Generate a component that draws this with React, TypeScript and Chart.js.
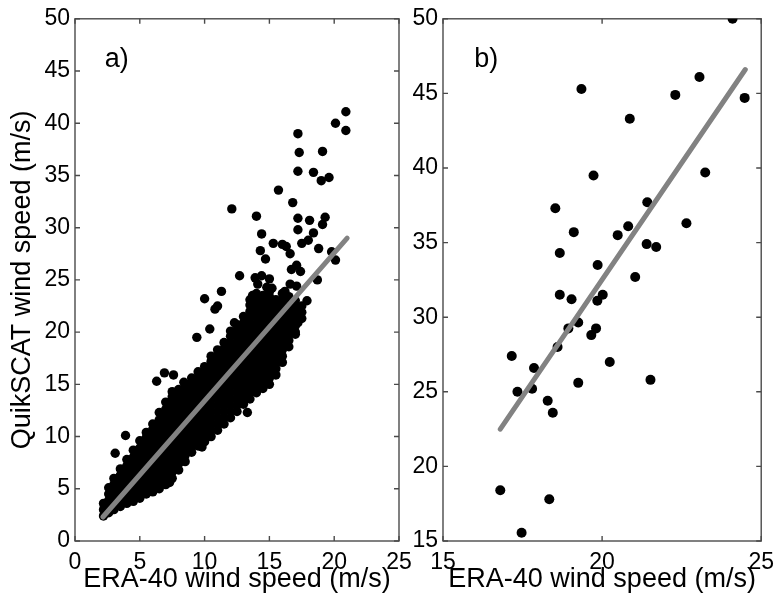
import React, { useEffect, useRef } from 'react';
import { Chart, registerables } from 'chart.js';

Chart.register(...registerables);

const FONT = '"Liberation Sans", Arial, Helvetica, sans-serif';

// ---------- Panel a) ----------
const xTitle = 'ERA-40 wind speed (m/s)';
const yTitle = 'QuikSCAT wind speed (m/s)';

// dense cloud read column by column: [ERA-40 speed, QuikSCAT speeds]
const blobA: [number, number[]][] = [
  [2.2, [2.4, 3.0, 3.6]],
  [2.6, [2.7, 3.3, 3.9, 4.5, 5.1]],
  [3.0, [3.0, 3.6, 4.2, 4.8, 5.4, 6.0]],
  [3.5, [3.3, 3.9, 4.5, 5.1, 5.7, 6.3, 6.9]],
  [4.0, [3.6, 4.2, 4.8, 5.4, 6.0, 6.6, 7.2, 7.8]],
  [4.5, [3.8, 4.4, 5.0, 5.6, 6.2, 6.8, 7.4, 8.0, 8.7]],
  [5.0, [4.1, 4.7, 5.3, 5.9, 6.5, 7.1, 7.7, 8.3, 8.9, 9.6]],
  [5.5, [4.5, 5.1, 5.7, 6.3, 6.9, 7.5, 8.1, 8.7, 9.3, 9.9, 10.4]],
  [6.0, [4.7, 5.3, 5.9, 6.5, 7.1, 7.7, 8.3, 8.9, 9.5, 10.1, 10.7, 11.2]],
  [6.5, [5.0, 5.6, 6.2, 6.8, 7.4, 8.0, 8.6, 9.2, 9.8, 10.4, 11.0, 11.6, 12.3]],
  [7.0, [5.4, 6.0, 6.6, 7.2, 7.8, 8.4, 9.0, 9.6, 10.2, 10.8, 11.4, 12.0, 12.6, 13.3]],
  [7.5, [6.0, 6.6, 7.2, 7.8, 8.4, 9.0, 9.6, 10.2, 10.8, 11.4, 12.0, 12.6, 13.2, 13.8, 14.3]],
  [8.0, [6.8, 7.4, 8.0, 8.6, 9.2, 9.8, 10.4, 11.0, 11.6, 12.2, 12.8, 13.4, 14.0, 14.5]],
  [8.5, [7.6, 8.2, 8.8, 9.4, 10.0, 10.6, 11.2, 11.8, 12.4, 13.0, 13.6, 14.2, 14.7]],
  [9.0, [8.5, 9.1, 9.7, 10.3, 10.9, 11.5, 12.1, 12.7, 13.3, 13.9, 14.5, 15.1, 15.6]],
  [9.5, [9.1, 9.7, 10.3, 10.9, 11.5, 12.1, 12.7, 13.3, 13.9, 14.5, 15.1, 15.7, 16.2]],
  [10.0, [9.5, 10.1, 10.7, 11.3, 11.9, 12.5, 13.1, 13.7, 14.3, 14.9, 15.5, 16.1, 16.7]],
  [10.5, [10.0, 10.6, 11.2, 11.8, 12.4, 13.0, 13.6, 14.2, 14.8, 15.4, 16.0, 16.6, 17.2, 17.7]],
  [11.0, [10.6, 11.2, 11.8, 12.4, 13.0, 13.6, 14.2, 14.8, 15.4, 16.0, 16.6, 17.2, 17.8, 18.3]],
  [11.5, [11.2, 11.8, 12.4, 13.0, 13.6, 14.2, 14.8, 15.4, 16.0, 16.6, 17.2, 17.8, 18.4, 19.0]],
  [12.0, [11.8, 12.4, 13.0, 13.6, 14.2, 14.8, 15.4, 16.0, 16.6, 17.2, 17.8, 18.4, 19.0, 19.6, 20.1]],
  [12.5, [12.4, 13.0, 13.6, 14.2, 14.8, 15.4, 16.0, 16.6, 17.2, 17.8, 18.4, 19.0, 19.6, 20.2, 20.7]],
  [13.0, [13.1, 13.7, 14.3, 14.9, 15.5, 16.1, 16.7, 17.3, 17.9, 18.5, 19.1, 19.7, 20.3, 20.9, 21.5]],
  [13.5, [13.6, 14.2, 14.8, 15.4, 16.0, 16.6, 17.2, 17.8, 18.4, 19.0, 19.6, 20.2, 20.8, 21.4, 22.0, 22.6, 23.1]],
  [14.0, [14.2, 14.8, 15.4, 16.0, 16.6, 17.2, 17.8, 18.4, 19.0, 19.6, 20.2, 20.8, 21.4, 22.0, 22.6, 23.2, 23.7]],
  [14.5, [14.6, 15.2, 15.8, 16.4, 17.0, 17.6, 18.2, 18.8, 19.4, 20.0, 20.6, 21.2, 21.8, 22.4, 23.0, 23.5]],
  [15.0, [15.0, 15.6, 16.2, 16.8, 17.4, 18.0, 18.6, 19.2, 19.8, 20.4, 21.0, 21.6, 22.2, 22.8, 23.4, 23.9]],
  [15.5, [15.9, 16.5, 17.1, 17.7, 18.3, 18.9, 19.5, 20.1, 20.7, 21.3, 21.9, 22.5, 23.1]],
  [16.0, [17.1, 17.7, 18.3, 18.9, 19.5, 20.1, 20.7, 21.3, 21.9, 22.5, 23.1, 23.7]],
  [16.5, [18.6, 19.2, 19.8, 20.4, 21.0, 21.6, 22.2, 22.8, 23.4]],
  [17.0, [20.0, 20.6, 21.2, 21.8, 22.4, 23.0]],
  [17.5, [21.3, 21.9, 22.5]],
];

// scattered points around the cloud: [ERA-40, QuikSCAT]
const sparseA: [number, number][] = [
  [20.9, 41.1], [20.9, 39.3], [20.1, 40.0], [17.2, 39.0], [17.3, 37.2], [17.2, 35.4],
  [19.1, 37.3], [18.4, 35.3], [19.0, 34.5], [19.6, 34.8], [15.7, 33.6], [16.8, 32.4],
  [12.1, 31.8], [14.0, 31.1], [17.2, 30.9], [18.1, 30.7], [19.3, 31.0], [19.1, 30.3],
  [17.2, 29.8], [14.4, 29.4], [18.4, 29.5], [18.0, 28.8], [17.5, 28.5], [16.3, 28.2],
  [15.3, 28.5], [16.0, 28.4], [16.6, 27.5], [14.3, 27.8], [14.7, 27.0], [18.8, 28.0],
  [19.8, 27.7], [20.1, 26.9], [16.7, 26.0], [17.4, 25.8], [17.1, 26.4], [18.7, 25.0],
  [12.7, 25.4], [13.9, 25.2], [14.4, 25.4], [15.0, 25.1], [14.8, 24.3], [15.2, 24.2],
  [16.2, 23.9], [11.3, 23.9], [10.0, 23.2], [11.0, 22.5], [10.8, 22.2], [13.7, 23.5],
  [17.9, 23.0], [17.2, 20.9], [17.0, 19.8], [9.4, 19.5], [10.4, 20.3], [12.3, 20.9],
  [3.1, 8.4], [3.9, 10.1], [6.3, 15.3], [6.9, 16.1], [7.6, 15.9], [13.3, 12.3], [8.4, 15.2],
  [16.6, 24.6], [17.1, 24.4], [14.1, 24.6], [7.3, 5.6], [9.8, 9.0],
];

const fitA: [number, number][] = [[2.15, 2.3], [21.0, 29.0]];

// ---------- Panel b) ----------
const pointsB: [number, number][] = [
  [24.1, 50.0], [19.35, 45.3], [22.3, 44.9], [23.06, 46.1], [24.48, 44.7], [20.87, 43.3],
  [19.73, 39.5], [23.24, 39.7], [18.53, 37.3], [21.42, 37.7], [19.11, 35.7], [18.67, 34.3],
  [20.49, 35.5], [20.82, 36.1], [21.4, 34.9], [21.7, 34.7], [22.65, 36.3], [19.86, 33.5],
  [21.04, 32.7], [18.67, 31.5], [19.04, 31.2], [20.02, 31.5], [19.85, 31.1], [19.25, 29.65],
  [18.94, 29.25], [19.81, 29.25], [19.66, 28.8], [18.6, 28.0], [17.16, 27.4], [17.86, 26.6],
  [20.24, 27.0], [17.34, 25.0], [17.8, 25.2], [19.25, 25.6], [21.52, 25.8], [18.29, 24.4],
  [18.45, 23.6], [16.8, 18.4], [18.34, 17.8], [17.47, 15.55],
];

const fitB: [number, number][] = [[16.8, 22.5], [24.5, 46.6]];

const toXY = (arr: [number, number][]) => arr.map(([x, y]) => ({ x, y }));
const blobPoints = blobA.flatMap(([x, ys]) => ys.map((y) => ({ x, y })));

const framePlugin = {
  id: 'matlabFrame',
  beforeDatasetsDraw(chart: any, _args: any, opts: any) {
    const { ctx, chartArea: a, scales } = chart;
    const x = scales.x;
    const y = scales.y;
    ctx.save();
    ctx.strokeStyle = '#4a4a4a';
    ctx.lineWidth = 1.4;
    ctx.strokeRect(a.left, a.top, a.right - a.left, a.bottom - a.top);
    const len = 5;
    ctx.beginPath();
    x.ticks.forEach((t: any) => {
      const px = x.getPixelForValue(t.value);
      ctx.moveTo(px, a.bottom); ctx.lineTo(px, a.bottom - len);
      ctx.moveTo(px, a.top); ctx.lineTo(px, a.top + len);
    });
    y.ticks.forEach((t: any) => {
      const py = y.getPixelForValue(t.value);
      ctx.moveTo(a.left, py); ctx.lineTo(a.left + len, py);
      ctx.moveTo(a.right, py); ctx.lineTo(a.right - len, py);
    });
    ctx.stroke();
    ctx.fillStyle = '#000';
    ctx.font = `27px ${FONT}`;
    ctx.textAlign = 'left';
    ctx.textBaseline = 'middle';
    ctx.fillText(opts.text, x.getPixelForValue(opts.x), y.getPixelForValue(opts.y));
    ctx.restore();
  },
};

function buildConfig(p: {
  points: { x: number; y: number }[];
  fit: [number, number][];
  radius: number;
  xmin: number; xmax: number; ymin: number; ymax: number;
  padLeft: number; padRight: number; yWidth: number;
  showYTitle: boolean;
  label: { text: string; x: number; y: number };
}): any {
  const tickFont = { family: FONT, size: 23 };
  const titleFont = { family: FONT, size: 27 };
  return {
    type: 'scatter',
    data: {
      datasets: [
        {
          type: 'line',
          data: toXY(p.fit),
          borderColor: '#828282',
          borderWidth: 5,
          borderCapStyle: 'round',
          pointRadius: 0,
          showLine: true,
          order: 0,
        },
        {
          data: p.points,
          backgroundColor: '#000',
          borderWidth: 0,
          pointRadius: p.radius,
          pointHoverRadius: p.radius,
          order: 1,
        },
      ],
    },
    options: {
      responsive: false,
      animation: false,
      events: [],
      layout: { padding: { left: p.padLeft, right: p.padRight, top: 16, bottom: 0 } },
      plugins: {
        legend: { display: false },
        tooltip: { enabled: false },
        matlabFrame: p.label,
      },
      scales: {
        x: {
          type: 'linear',
          min: p.xmin,
          max: p.xmax,
          grid: { display: false, drawTicks: false },
          border: { display: false },
          ticks: { stepSize: 5, font: tickFont, color: '#000', padding: 8, autoSkip: false, maxRotation: 0 },
          title: { display: true, text: xTitle, font: titleFont, color: '#000', padding: { top: 0, bottom: 4 } },
          afterFit: (s: any) => { s.height = 59; },
        },
        y: {
          type: 'linear',
          min: p.ymin,
          max: p.ymax,
          grid: { display: false, drawTicks: false },
          border: { display: false },
          ticks: { stepSize: 5, font: tickFont, color: '#000', padding: 5, autoSkip: false },
          title: { display: p.showYTitle, text: yTitle, font: titleFont, color: '#000', padding: { top: 6, bottom: 0 } },
          afterFit: (s: any) => { s.width = p.yWidth; },
        },
      },
    },
    plugins: [framePlugin],
  };
}

export default function App() {
  const refA = useRef<HTMLCanvasElement | null>(null);
  const refB = useRef<HTMLCanvasElement | null>(null);

  useEffect(() => {
    Chart.defaults.font.family = FONT;
    const a = new Chart(refA.current as HTMLCanvasElement, buildConfig({
      points: [...blobPoints, ...toXY(sparseA)],
      fit: fitA,
      radius: 4.7,
      xmin: 0, xmax: 25, ymin: 0, ymax: 50,
      padLeft: 0, padRight: 383, yWidth: 75,
      showYTitle: true,
      label: { text: 'a)', x: 2.3, y: 46.1 },
    }));
    const b = new Chart(refB.current as HTMLCanvasElement, buildConfig({
      points: toXY(pointsB),
      fit: fitB,
      radius: 5,
      xmin: 15, xmax: 25, ymin: 15, ymax: 50,
      padLeft: 390, padRight: 14, yWidth: 53,
      showYTitle: false,
      label: { text: 'b)', x: 15.98, y: 47.3 },
    }));
    return () => { a.destroy(); b.destroy(); };
  }, []);

  const cs: React.CSSProperties = { position: 'absolute', left: 0, top: 0 };
  return (
    <div style={{ position: 'absolute', left: 0, top: 0, width: 782, height: 600, background: '#fff' }}>
      <canvas ref={refA} width={782} height={600} style={cs} />
      <canvas ref={refB} width={782} height={600} style={cs} />
    </div>
  );
}
